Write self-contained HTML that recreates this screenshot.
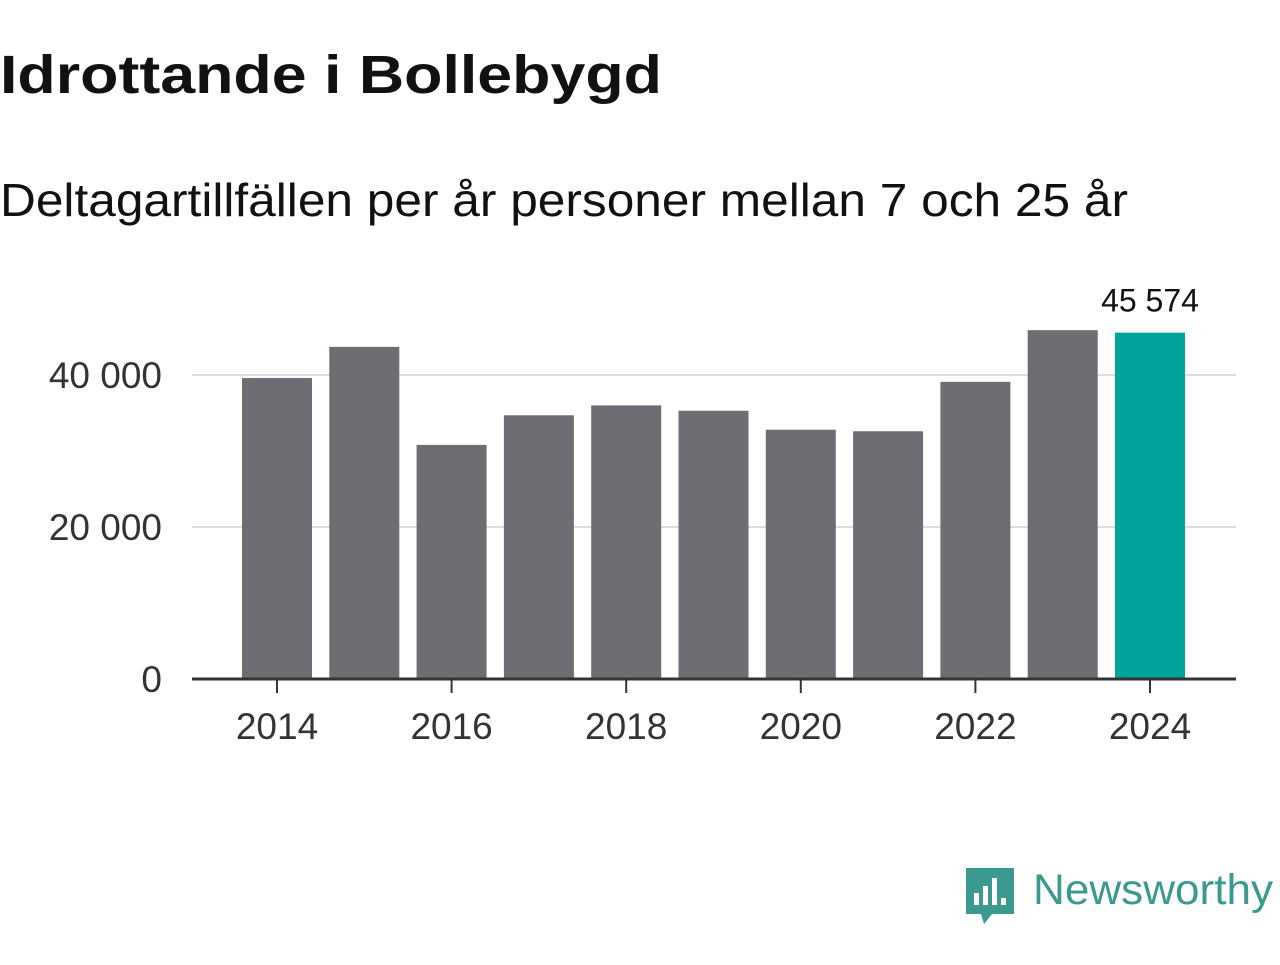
<!DOCTYPE html>
<html><head><meta charset="utf-8"><style>
body{margin:0;background:#fff;width:1280px;height:960px;overflow:hidden;font-family:"Liberation Sans",sans-serif;}
</style></head><body>
<svg width="1280" height="960" xmlns="http://www.w3.org/2000/svg">
<text x="0" y="93" font-size="54" font-weight="bold" fill="#111" textLength="662" lengthAdjust="spacingAndGlyphs">Idrottande i Bollebygd</text>
<text x="0" y="216" font-size="46" fill="#111" textLength="1128" lengthAdjust="spacingAndGlyphs">Deltagartillfällen per år personer mellan 7 och 25 år</text>
<g id="grid"></g><g id="bars"></g><g id="axes"></g>
<g>
<path d="M966 868 h48 v46 h-22 l-8 10 l-3 -10 h-15 z" fill="#3a9a8f"/>
<rect x="974" y="893" width="5" height="12" fill="#fff"/><rect x="983" y="886" width="5" height="19" fill="#fff"/><rect x="992" y="878" width="5" height="27" fill="#fff"/><rect x="1001" y="898" width="5" height="7" fill="#fff"/>
<text x="1033" y="904" font-size="43" fill="#3a9a8f" textLength="240" lengthAdjust="spacingAndGlyphs">Newsworthy</text>
</g>
</svg>
<script>
const years=[2014,2015,2016,2017,2018,2019,2020,2021,2022,2023,2024];
const values=[39600,43700,30800,34700,36000,35300,32800,32600,39100,45900,45574];
const yTicks=[0,20000,40000];
const yTickLabels=["0","20 000","40 000"];
const xTicks=[2014,2016,2018,2020,2022,2024];
const ns="http://www.w3.org/2000/svg";
const y0=679,pxPer=152/20000;
const yS=v=>y0-v*pxPer;
const xS=yr=>277+(yr-2014)*87.3;
const bw=70;
function mk(t,a,p){const e=document.createElementNS(ns,t);for(const k in a)e.setAttribute(k,a[k]);p.appendChild(e);return e;}
const g=document.getElementById('grid'),b=document.getElementById('bars'),ax=document.getElementById('axes');
yTicks.forEach((v,i)=>{
 if(v>0){const l=mk('line',{x1:192,x2:1236,y1:yS(v),y2:yS(v),stroke:'#ddd','stroke-width':2},g);
 
 }
 const t=mk('text',{x:162,y:yS(v)+13,'font-size':37,fill:'#333','text-anchor':'end'},ax);t.textContent=yTickLabels[i];
 
 
});
years.forEach((yr,i)=>{
 const last=i===years.length-1;
 const r=mk('rect',{x:xS(yr)-bw/2,y:yS(values[i]),width:bw,height:y0-yS(values[i]),fill:last?'#00a39a':'#6e6d73'},b);
 
 
 if(last){const t=mk('text',{x:xS(yr),y:yS(values[i])-21,'font-size':32,fill:'#111','text-anchor':'middle'},b);
 t.textContent=values[i].toString().replace(/\B(?=(\d{3})+$)/g,' ');
 
 }
});
const base=mk('line',{x1:192,x2:1236,y1:y0,y2:y0,stroke:'#333','stroke-width':3},ax);


xTicks.forEach(yr=>{
 const tk=mk('line',{x1:xS(yr),x2:xS(yr),y1:y0,y2:y0+14,stroke:'#333','stroke-width':2},ax);
 
 
 const t=mk('text',{x:xS(yr),y:739,'font-size':37,fill:'#333','text-anchor':'middle'},ax);t.textContent=yr;
 
 
});
</script>
</body></html>
